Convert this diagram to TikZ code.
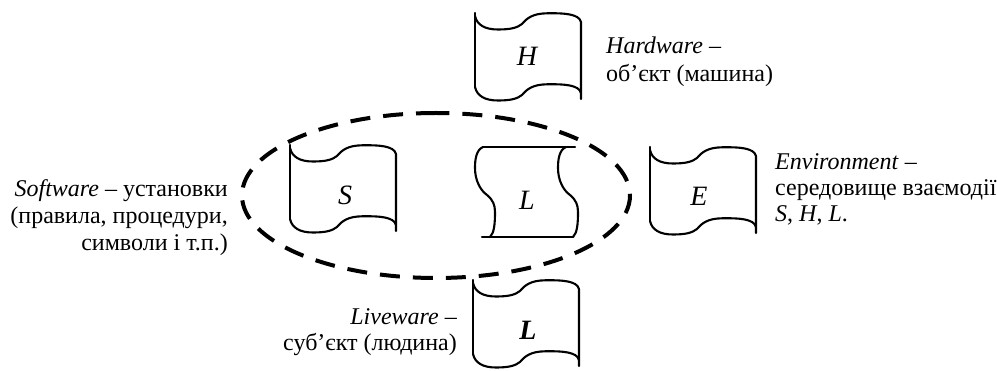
\documentclass[tikz,border=0pt]{standalone}
\usepackage{fontspec}
\setmainfont{Liberation Serif}
\tikzset{
  flagline/.style={line width=2.1pt, line join=round, line cap=round},
  ring/.style={line width=4pt, dash pattern=on 20pt off 13pt},
  lab/.style={inner sep=0pt, font=\fontsize{24}{27}\selectfont},
  letter/.style={inner sep=0pt, font=\fontsize{28}{30}\selectfont\itshape},
  flagshape/.pic={
    \draw[flagline] (0,0) -- (0,74);
    \draw[flagline] (0,3) .. controls (2,12) and (10,16.5) .. (23,16.5)
      .. controls (35,16.5) and (42,15) .. (47,11)
      .. controls (52,5) and (58,0.5) .. (72,0.3)
      .. controls (90,0) and (104,1) .. (106,9) -- (106,86);
    \draw[flagline] (0,74) .. controls (2,83) and (10,87.5) .. (23,87.5)
      .. controls (35,87.5) and (42,86) .. (47,82)
      .. controls (52,76) and (58,71.5) .. (72,71.3)
      .. controls (90,71) and (104,72) .. (106,80);
  }
}
\begin{document}
\begin{tikzpicture}[x=1pt,y=-1pt]
\useasboundingbox (0,0) rectangle (997,371);

% flags
\pic at (475,13) {flagshape};
\pic at (290,145) {flagshape};
\pic at (650,147) {flagshape};
\pic at (473,280) {flagshape};

% central L shape (waves on the sides)
\draw[flagline] (483,147) -- (575,147);
\draw[flagline] (482,237) -- (573,237);
\draw[flagline] (483,147) .. controls (476,150) and (475,160) .. (475,168)
  .. controls (475,180) and (480,190) .. (487,195)
  .. controls (493,200) and (495,205) .. (495,212)
  .. controls (495,225) and (494,233) .. (490,237);
\draw[flagline] (566,147) .. controls (559,150) and (558,160) .. (558,168)
  .. controls (558,180) and (563,190) .. (570,195)
  .. controls (576,200) and (578,205) .. (578,212)
  .. controls (578,225) and (577,233) .. (573,237);

% dashed ellipse
\draw[ring] (436,113) arc[start angle=90, end angle=450, x radius=194pt, y radius=82.5pt];

% letters
\node[letter] (H) at (527,56) {H};
\node[letter] (S) at (345,195) {S};
\node[letter] (E) at (699,196) {E};
\node[letter] (Lc) at (527,200) {L};
\node[letter, font=\fontsize{28}{30}\selectfont\bfseries\itshape] (Lb) at (528,330) {L};

% labels
\node[lab, anchor=base west] (hw1) at (606,54) {\textit{Hardware} –};
\node[lab, anchor=base west] (hw2) at (606,82) {об’єкт (машина)};

\node[lab, anchor=base east] (sw1) at (228,197) {\textit{Software} – установки};
\node[lab, anchor=base east] (sw2) at (228,224) {(правила, процедури,};
\node[lab, anchor=base east] (sw3) at (228,251) {символи і т.п.)};

\node[lab, anchor=base west] (en1) at (775,170) {\textit{Environment} –};
\node[lab, anchor=base west] (en2) at (775,196) {середовище взаємодії};
\node[lab, anchor=base west] (en3) at (775,222) {\textit{S}, \textit{H}, \textit{L}.};

\node[lab, anchor=base east] (lw1) at (457,325) {\textit{Liveware} –};
\node[lab, anchor=base east] (lw2) at (457,351) {суб’єкт (людина)};
\end{tikzpicture}
\end{document}
